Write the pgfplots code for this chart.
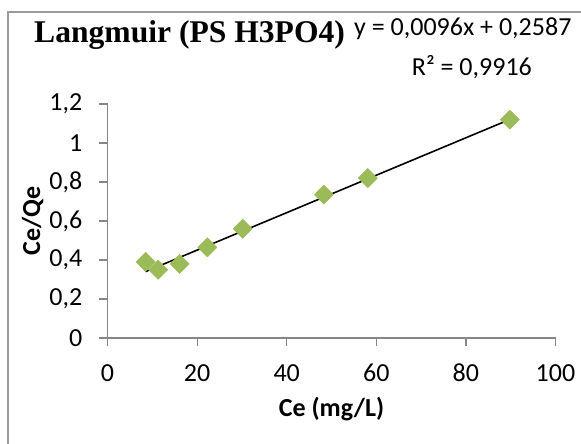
\documentclass[border=0pt]{standalone}
\usepackage{fontspec}
\setmainfont{Carlito}
\newfontfamily\titlefont{Liberation Serif}
\usepackage{pgfplots}
\pgfplotsset{compat=1.18}
\definecolor{axisgray}{HTML}{868686}
\definecolor{framegray}{HTML}{9A9A9A}
\definecolor{markgreen}{HTML}{9BBB59}
\begin{document}
\begin{tikzpicture}[x=1pt,y=1pt]
\useasboundingbox (0,0) rectangle (581,444);
% chart frame: left and top edges
\draw[framegray, line width=1.5pt] (8,-2) -- (8,432) -- (583,432);
\begin{axis}[
  at={(107.5pt,106pt)}, anchor=south west,
  scale only axis, width=448pt, height=234pt,
  xmin=0, xmax=100, ymin=0, ymax=1.2,
  axis lines=left,
  axis line style={axisgray, line width=1.2pt, -},
  xtick={0,20,40,60,80,100},
  ytick={0,0.2,0.4,0.6,0.8,1,1.2},
  tick align=outside, major tick length=8pt,
  tick style={axisgray, line width=1.2pt},
  /pgf/number format/.cd, use comma, fixed, precision=1, assume math mode=true,
  /pgfplots/.cd,
  ticklabel style={font=\fontsize{26}{30}\selectfont, text=black, inner sep=0pt},
  xticklabel style={anchor=north, yshift=-18pt},
  yticklabel style={anchor=east, xshift=-17pt},
  xlabel={Ce (mg/L)}, ylabel={Ce/Qe},
  label style={font=\fontsize{26}{30}\selectfont\bfseries},
  x label style={at={(axis description cs:0.5,0)}, anchor=base, yshift=-79pt},
  y label style={at={(axis description cs:-0.167,0.5)}, anchor=center},
  clip=false,
]
% measured points
\addplot[only marks, mark=square*, mark size=6.8pt,
  mark options={rotate=45, fill=markgreen, draw=markgreen}]
  coordinates {
    (8.5,0.39) (11.3,0.35) (16.1,0.38) (22.3,0.465)
    (30.2,0.56) (48.3,0.735) (58.1,0.82) (89.8,1.12)
  };
% linear trendline y = 0.0096x + 0.2587
\addplot[black, line width=1.6pt] coordinates {(8.5,0.3403) (89.8,1.1208)};
\end{axis}
\node[anchor=base west, inner sep=0pt, font=\titlefont\bfseries\fontsize{31.6}{37}\selectfont]
  at (34,401.7) {Langmuir (PS H3PO4)};
\node[anchor=base west, inner sep=0pt, font=\fontsize{26}{30}\selectfont]
  at (354,408.3) {y = 0,0096x + 0,2587};
\node[anchor=base west, inner sep=0pt, font=\fontsize{26}{30}\selectfont]
  at (411.7,368) {R² = 0,9916};
\end{tikzpicture}
\end{document}
